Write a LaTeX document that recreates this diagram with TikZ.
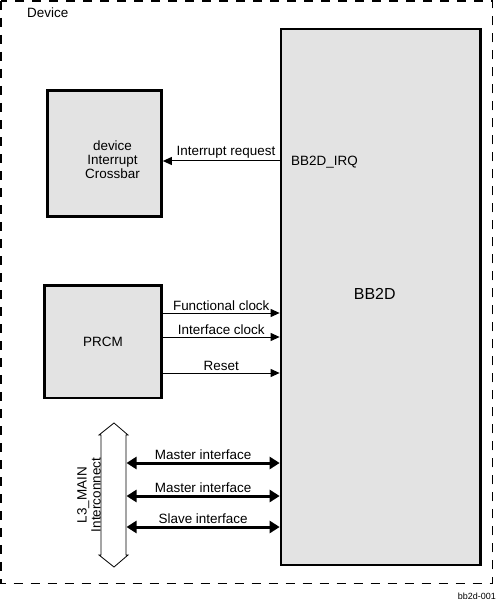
\documentclass[tikz,border=0pt]{standalone}
\usepackage{fontspec}
\setmainfont{Liberation Sans}
\usetikzlibrary{arrows.meta}
\definecolor{boxgray}{gray}{0.89}

\begin{document}
\begin{tikzpicture}[x=1bp, y=-1bp, font=\fontsize{13.5}{14}\selectfont,
  block/.style={draw, line width=2.7bp, fill=boxgray, inner sep=0pt},
  sig/.style={line width=1bp, -{Triangle[length=9bp, width=8bp]}},
  bus/.style={line width=3bp, {Triangle[length=10bp, width=12bp]}-{Triangle[length=10bp, width=12bp]}}]
  \useasboundingbox (0,0) rectangle (497,601);
  % device frame
  \draw[line width=1.3bp, dash pattern=on 9bp off 8bp] (1,1) rectangle (492.5,583.5);
  \node[anchor=west, inner sep=0pt] (dev) at (27,13) {Device};
  % blocks
  \node[block, minimum width=199.5bp, minimum height=536bp,
    label={[font=\fontsize{16}{18}\selectfont, xshift=-6bp, yshift=3bp]center:BB2D}] (bb2d) at (380.75,297) {};
  \node[block, minimum width=114bp, minimum height=126bp,
    label={[align=center, xshift=8bp, yshift=-6bp]center:device\\Interrupt\\Crossbar}] (xbar) at (104.5,153.5) {};
  \node[block, minimum width=117bp, minimum height=112.5bp] (prcm) at (103,341.75) {PRCM};
  \node[anchor=west, inner sep=0pt] (irq) at (291,162) {BB2D\_IRQ};
  % interconnect (hollow double arrow)
  \draw[line width=0.8bp] (114,423) -- (128,435) -- (126,435) -- (126,555) -- (128,555)
    -- (114,567) -- (99,555) -- (101,555) -- (101,435) -- (99,435) -- cycle;
  \coordinate (l3) at (126.5,495);
  \node[rotate=90, align=center, inner sep=0pt] (l3txt) at (89,495) {L3\_MAIN\\Interconnect};
  % signals
  \draw[sig] (bb2d.west |- 0,161) -- node[pos=0.46, above, inner sep=2bp] {Interrupt request} (xbar.east |- 0,161);
  \draw[sig] (prcm.east |- 0,313) -- node[midway, above, inner sep=2bp] {Functional clock} (bb2d.west |- 0,313);
  \draw[sig] (prcm.east |- 0,337) -- node[midway, above, inner sep=2bp] {Interface clock} (bb2d.west |- 0,337);
  \draw[sig] (prcm.east |- 0,373) -- node[midway, above, inner sep=2bp] {Reset} (bb2d.west |- 0,373);
  \draw[bus] (l3 |- 0,463) -- node[midway, above, inner sep=2bp] {Master interface} (bb2d.west |- 0,463);
  \draw[bus] (l3 |- 0,496) -- node[midway, above, inner sep=2bp] {Master interface} (bb2d.west |- 0,496);
  \draw[bus] (l3 |- 0,527) -- node[midway, above, inner sep=2bp] {Slave interface} (bb2d.west |- 0,527);
  \node[anchor=east, inner sep=0pt, font=\fontsize{9}{10}\selectfont] (fig) at (496,596) {bb2d-001};
\end{tikzpicture}
\end{document}
